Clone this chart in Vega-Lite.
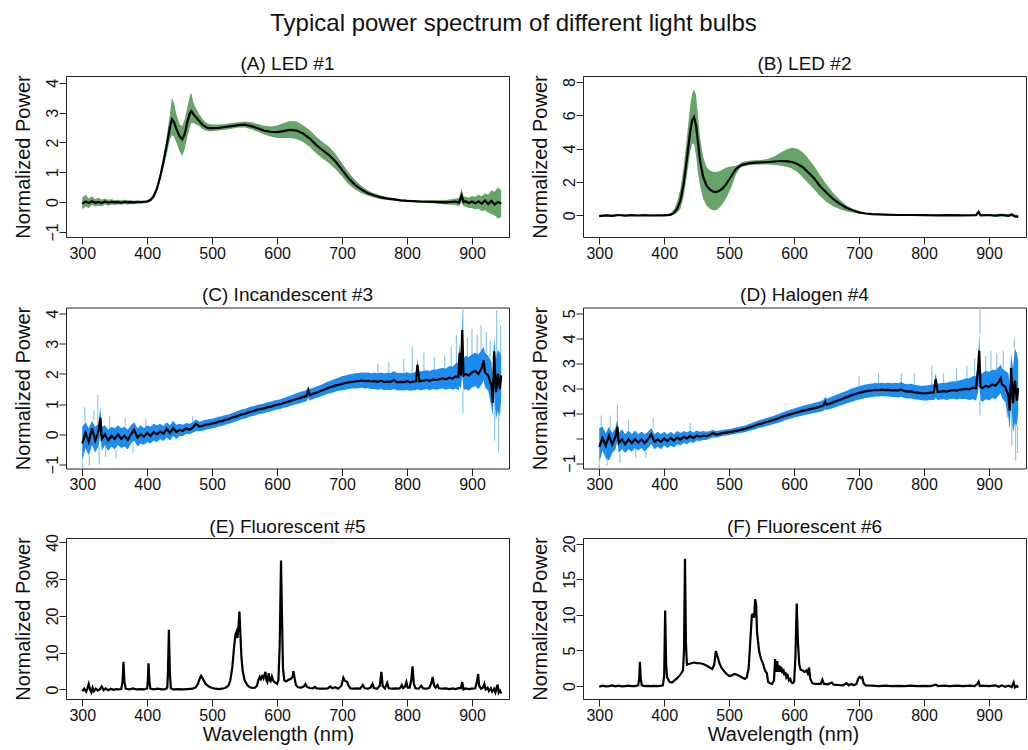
{
"$schema": "https://vega.github.io/schema/vega-lite/v6.json",
"padding": {"left": 12, "top": 12, "right": 0, "bottom": 0},
"title": {"text": "Typical power spectrum of different light bulbs", "fontSize": 24, "fontWeight": "normal", "anchor": "middle", "offset": 18, "dx": -6},
"config": {
  "font": "Liberation Sans",
  "view": {"stroke": "#222", "strokeWidth": 1},
  "axis": {"grid": false, "domain": false, "ticks": true, "tickSize": 7, "tickColor": "#222", "tickWidth": 1, "labelFontSize": 16, "labelColor": "#111", "labelPadding": 1, "titleFontSize": 20, "titleFontWeight": "normal", "titleColor": "#111", "labelFlush": false, "labelOverlap": false},
  "axisY": {"titleX": -37, "titleBaseline": "alphabetic"},
  "title": {"fontSize": 19, "fontWeight": "normal", "color": "#111", "offset": 1}
},
"datasets": {
"ledA": [
{"wl":300,"m":-0.05,"lo":-0.25,"hi":0.15},{"wl":305,"m":0.02,"lo":-0.15,"hi":0.25},{"wl":310,"m":-0.03,"lo":-0.2,"hi":0.12},{"wl":315,"m":0.03,"lo":-0.1,"hi":0.2},{"wl":320,"m":-0.02,"lo":-0.15,"hi":0.1},{"wl":325,"m":0.01,"lo":-0.12,"hi":0.15},{"wl":330,"m":-0.03,"lo":-0.14,"hi":0.08},{"wl":335,"m":0.02,"lo":-0.08,"hi":0.12},{"wl":340,"m":-0.02,"lo":-0.12,"hi":0.08},{"wl":345,"m":0.01,"lo":-0.08,"hi":0.1},{"wl":350,"m":-0.01,"lo":-0.1,"hi":0.07},{"wl":355,"m":0,"lo":-0.07,"hi":0.08},{"wl":360,"m":-0.02,"lo":-0.09,"hi":0.06},{"wl":365,"m":0.01,"lo":-0.06,"hi":0.08},{"wl":370,"m":-0.01,"lo":-0.08,"hi":0.06},{"wl":375,"m":0,"lo":-0.06,"hi":0.06},{"wl":380,"m":-0.01,"lo":-0.07,"hi":0.05},{"wl":385,"m":0,"lo":-0.05,"hi":0.06},{"wl":390,"m":0,"lo":-0.05,"hi":0.05},{"wl":395,"m":0.01,"lo":-0.04,"hi":0.05},{"wl":400,"m":0.02,"lo":-0.03,"hi":0.07},{"wl":405,"m":0.07,"lo":0.01,"hi":0.12},{"wl":410,"m":0.2,"lo":0.12,"hi":0.28},{"wl":415,"m":0.45,"lo":0.35,"hi":0.55},{"wl":420,"m":0.85,"lo":0.72,"hi":0.98},{"wl":425,"m":1.35,"lo":1.15,"hi":1.55},{"wl":430,"m":1.9,"lo":1.6,"hi":2.2},{"wl":435,"m":2.5,"lo":2.1,"hi":2.95},{"wl":438,"m":2.78,"lo":2.25,"hi":3.5},{"wl":441,"m":2.7,"lo":2.2,"hi":3.35},{"wl":445,"m":2.45,"lo":2,"hi":2.95},{"wl":450,"m":2.2,"lo":1.7,"hi":2.6},{"wl":454,"m":2.11,"lo":1.55,"hi":2.55},{"wl":458,"m":2.3,"lo":1.8,"hi":2.8},{"wl":462,"m":2.7,"lo":2.2,"hi":3.2},{"wl":466,"m":3,"lo":2.55,"hi":3.6},{"wl":468,"m":3.05,"lo":2.65,"hi":3.65},{"wl":471,"m":2.95,"lo":2.65,"hi":3.35},{"wl":475,"m":2.85,"lo":2.6,"hi":3.15},{"wl":480,"m":2.72,"lo":2.55,"hi":2.95},{"wl":485,"m":2.6,"lo":2.45,"hi":2.8},{"wl":490,"m":2.52,"lo":2.4,"hi":2.68},{"wl":495,"m":2.48,"lo":2.38,"hi":2.62},{"wl":500,"m":2.48,"lo":2.38,"hi":2.6},{"wl":510,"m":2.49,"lo":2.4,"hi":2.6},{"wl":520,"m":2.52,"lo":2.43,"hi":2.62},{"wl":530,"m":2.55,"lo":2.46,"hi":2.65},{"wl":540,"m":2.58,"lo":2.5,"hi":2.68},{"wl":550,"m":2.6,"lo":2.5,"hi":2.7},{"wl":560,"m":2.55,"lo":2.44,"hi":2.68},{"wl":570,"m":2.48,"lo":2.36,"hi":2.62},{"wl":580,"m":2.4,"lo":2.27,"hi":2.56},{"wl":590,"m":2.36,"lo":2.2,"hi":2.54},{"wl":600,"m":2.35,"lo":2.15,"hi":2.57},{"wl":610,"m":2.38,"lo":2.15,"hi":2.65},{"wl":620,"m":2.42,"lo":2.15,"hi":2.72},{"wl":630,"m":2.4,"lo":2.12,"hi":2.7},{"wl":640,"m":2.3,"lo":2.02,"hi":2.58},{"wl":650,"m":2.14,"lo":1.86,"hi":2.42},{"wl":660,"m":1.92,"lo":1.64,"hi":2.2},{"wl":670,"m":1.74,"lo":1.46,"hi":2.02},{"wl":680,"m":1.58,"lo":1.3,"hi":1.86},{"wl":690,"m":1.36,"lo":1.1,"hi":1.62},{"wl":700,"m":1.08,"lo":0.86,"hi":1.3},{"wl":710,"m":0.8,"lo":0.6,"hi":1},{"wl":720,"m":0.58,"lo":0.42,"hi":0.74},{"wl":730,"m":0.42,"lo":0.3,"hi":0.54},{"wl":740,"m":0.3,"lo":0.21,"hi":0.39},{"wl":750,"m":0.22,"lo":0.15,"hi":0.29},{"wl":760,"m":0.16,"lo":0.1,"hi":0.22},{"wl":770,"m":0.12,"lo":0.07,"hi":0.17},{"wl":780,"m":0.09,"lo":0.05,"hi":0.13},{"wl":790,"m":0.06,"lo":0.03,"hi":0.1},{"wl":800,"m":0.04,"lo":0.01,"hi":0.08},{"wl":820,"m":0.02,"lo":-0.02,"hi":0.06},{"wl":840,"m":0.01,"lo":-0.04,"hi":0.06},{"wl":860,"m":-0.01,"lo":-0.08,"hi":0.07},{"wl":875,"m":0.02,"lo":-0.1,"hi":0.12},{"wl":880,"m":-0.02,"lo":-0.15,"hi":0.15},{"wl":884,"m":0.22,"lo":0,"hi":0.45},{"wl":887,"m":0,"lo":-0.15,"hi":0.2},{"wl":890,"m":0.03,"lo":-0.15,"hi":0.18},{"wl":895,"m":-0.03,"lo":-0.2,"hi":0.15},{"wl":900,"m":0.02,"lo":-0.2,"hi":0.2},{"wl":905,"m":-0.04,"lo":-0.25,"hi":0.18},{"wl":910,"m":0.03,"lo":-0.22,"hi":0.25},{"wl":915,"m":-0.05,"lo":-0.3,"hi":0.2},{"wl":920,"m":0.05,"lo":-0.28,"hi":0.3},{"wl":925,"m":-0.06,"lo":-0.35,"hi":0.25},{"wl":930,"m":0.04,"lo":-0.4,"hi":0.4},{"wl":935,"m":-0.08,"lo":-0.45,"hi":0.35},{"wl":940,"m":0,"lo":-0.55,"hi":0.5},{"wl":945,"m":-0.05,"lo":-0.5,"hi":0.4}
],
"ledB": [
{"wl":300,"m":-0.05,"lo":-0.1,"hi":0.02},{"wl":310,"m":0,"lo":-0.05,"hi":0.05},{"wl":320,"m":-0.03,"lo":-0.08,"hi":0.03},{"wl":330,"m":0.02,"lo":-0.03,"hi":0.06},{"wl":340,"m":-0.02,"lo":-0.06,"hi":0.03},{"wl":350,"m":0.01,"lo":-0.03,"hi":0.05},{"wl":360,"m":-0.01,"lo":-0.05,"hi":0.03},{"wl":370,"m":0.01,"lo":-0.03,"hi":0.05},{"wl":380,"m":-0.01,"lo":-0.05,"hi":0.03},{"wl":390,"m":0,"lo":-0.04,"hi":0.04},{"wl":400,"m":0,"lo":-0.04,"hi":0.04},{"wl":405,"m":0.01,"lo":-0.03,"hi":0.05},{"wl":410,"m":0.04,"lo":-0.02,"hi":0.12},{"wl":415,"m":0.15,"lo":0.05,"hi":0.35},{"wl":420,"m":0.4,"lo":0.15,"hi":0.8},{"wl":425,"m":0.9,"lo":0.4,"hi":1.6},{"wl":430,"m":1.9,"lo":1.1,"hi":2.9},{"wl":435,"m":3.4,"lo":2.4,"hi":4.7},{"wl":440,"m":5,"lo":3.8,"hi":6.6},{"wl":443,"m":5.7,"lo":4.3,"hi":7.3},{"wl":446,"m":5.9,"lo":4.3,"hi":7.55},{"wl":449,"m":5.4,"lo":3.6,"hi":7.2},{"wl":452,"m":4.4,"lo":2.6,"hi":6},{"wl":455,"m":3.3,"lo":1.8,"hi":4.7},{"wl":460,"m":2.3,"lo":1,"hi":3.5},{"wl":465,"m":1.8,"lo":0.6,"hi":2.9},{"wl":470,"m":1.55,"lo":0.4,"hi":2.7},{"wl":475,"m":1.43,"lo":0.3,"hi":2.62},{"wl":480,"m":1.4,"lo":0.3,"hi":2.6},{"wl":485,"m":1.48,"lo":0.45,"hi":2.65},{"wl":490,"m":1.62,"lo":0.7,"hi":2.75},{"wl":495,"m":1.85,"lo":1,"hi":2.85},{"wl":500,"m":2.15,"lo":1.4,"hi":2.92},{"wl":505,"m":2.45,"lo":1.85,"hi":2.95},{"wl":510,"m":2.75,"lo":2.4,"hi":2.98},{"wl":515,"m":2.92,"lo":2.75,"hi":3.05},{"wl":520,"m":3.03,"lo":2.92,"hi":3.2},{"wl":530,"m":3.12,"lo":3,"hi":3.28},{"wl":540,"m":3.16,"lo":3.04,"hi":3.3},{"wl":550,"m":3.18,"lo":3.05,"hi":3.32},{"wl":560,"m":3.2,"lo":3.05,"hi":3.4},{"wl":570,"m":3.23,"lo":3.02,"hi":3.55},{"wl":580,"m":3.26,"lo":2.98,"hi":3.78},{"wl":590,"m":3.24,"lo":2.9,"hi":3.98},{"wl":597,"m":3.2,"lo":2.8,"hi":4.06},{"wl":605,"m":3.08,"lo":2.6,"hi":4},{"wl":613,"m":2.9,"lo":2.3,"hi":3.8},{"wl":620,"m":2.65,"lo":2,"hi":3.5},{"wl":630,"m":2.25,"lo":1.6,"hi":3},{"wl":640,"m":1.75,"lo":1.15,"hi":2.4},{"wl":650,"m":1.35,"lo":0.8,"hi":1.85},{"wl":660,"m":0.98,"lo":0.55,"hi":1.35},{"wl":670,"m":0.7,"lo":0.38,"hi":0.95},{"wl":680,"m":0.46,"lo":0.25,"hi":0.62},{"wl":690,"m":0.3,"lo":0.17,"hi":0.4},{"wl":700,"m":0.18,"lo":0.1,"hi":0.25},{"wl":710,"m":0.11,"lo":0.06,"hi":0.15},{"wl":720,"m":0.07,"lo":0.04,"hi":0.1},{"wl":740,"m":0.04,"lo":0.01,"hi":0.07},{"wl":760,"m":0.02,"lo":-0.01,"hi":0.05},{"wl":780,"m":0.02,"lo":-0.02,"hi":0.05},{"wl":800,"m":0.01,"lo":-0.02,"hi":0.04},{"wl":820,"m":0,"lo":-0.03,"hi":0.04},{"wl":840,"m":0.01,"lo":-0.03,"hi":0.05},{"wl":860,"m":0,"lo":-0.04,"hi":0.04},{"wl":880,"m":0.01,"lo":-0.04,"hi":0.05},{"wl":884,"m":0.2,"lo":0.05,"hi":0.35},{"wl":887,"m":0,"lo":-0.05,"hi":0.06},{"wl":900,"m":0.02,"lo":-0.04,"hi":0.07},{"wl":910,"m":-0.02,"lo":-0.08,"hi":0.05},{"wl":920,"m":0.03,"lo":-0.05,"hi":0.1},{"wl":930,"m":-0.03,"lo":-0.1,"hi":0.06},{"wl":935,"m":0.05,"lo":-0.05,"hi":0.12},{"wl":940,"m":-0.06,"lo":-0.15,"hi":0.05},{"wl":945,"m":-0.08,"lo":-0.15,"hi":0.02}
],
"incC": [
{"wl":300,"m":-0.3,"lo":-0.9,"hi":0.25},{"wl":305,"m":0.05,"lo":-0.45,"hi":0.4},{"wl":310,"m":-0.25,"lo":-0.7,"hi":0.2},{"wl":315,"m":0.2,"lo":-0.35,"hi":0.45},{"wl":320,"m":-0.2,"lo":-0.6,"hi":0.25},{"wl":325,"m":0.1,"lo":-0.4,"hi":0.35},{"wl":328,"m":0.55,"lo":0,"hi":0.9},{"wl":330,"m":-0.15,"lo":-0.55,"hi":0.25},{"wl":335,"m":0,"lo":-0.35,"hi":0.3},{"wl":340,"m":-0.2,"lo":-0.55,"hi":0.15},{"wl":345,"m":-0.05,"lo":-0.4,"hi":0.25},{"wl":350,"m":-0.15,"lo":-0.5,"hi":0.2},{"wl":355,"m":0,"lo":-0.35,"hi":0.3},{"wl":360,"m":-0.15,"lo":-0.45,"hi":0.2},{"wl":365,"m":-0.05,"lo":-0.4,"hi":0.25},{"wl":370,"m":-0.18,"lo":-0.5,"hi":0.15},{"wl":375,"m":0,"lo":-0.3,"hi":0.3},{"wl":380,"m":0.15,"lo":-0.2,"hi":0.4},{"wl":385,"m":-0.1,"lo":-0.4,"hi":0.2},{"wl":390,"m":0,"lo":-0.3,"hi":0.3},{"wl":395,"m":-0.08,"lo":-0.35,"hi":0.2},{"wl":400,"m":0.05,"lo":-0.25,"hi":0.3},{"wl":405,"m":-0.05,"lo":-0.3,"hi":0.25},{"wl":410,"m":0.08,"lo":-0.2,"hi":0.35},{"wl":415,"m":0,"lo":-0.25,"hi":0.3},{"wl":420,"m":0.1,"lo":-0.15,"hi":0.35},{"wl":425,"m":0.02,"lo":-0.22,"hi":0.28},{"wl":430,"m":0.18,"lo":-0.1,"hi":0.4},{"wl":435,"m":0.05,"lo":-0.2,"hi":0.3},{"wl":440,"m":0.2,"lo":-0.05,"hi":0.45},{"wl":445,"m":0.08,"lo":-0.15,"hi":0.32},{"wl":450,"m":0.15,"lo":-0.05,"hi":0.35},{"wl":455,"m":0.12,"lo":-0.05,"hi":0.32},{"wl":460,"m":0.2,"lo":0.02,"hi":0.38},{"wl":465,"m":0.15,"lo":0,"hi":0.35},{"wl":470,"m":0.22,"lo":0.05,"hi":0.4},{"wl":475,"m":0.35,"lo":0.1,"hi":0.5},{"wl":480,"m":0.26,"lo":0.1,"hi":0.42},{"wl":485,"m":0.28,"lo":0.12,"hi":0.45},{"wl":490,"m":0.32,"lo":0.15,"hi":0.48},{"wl":495,"m":0.33,"lo":0.18,"hi":0.5},{"wl":500,"m":0.36,"lo":0.2,"hi":0.52},{"wl":505,"m":0.38,"lo":0.22,"hi":0.55},{"wl":510,"m":0.42,"lo":0.26,"hi":0.58},{"wl":515,"m":0.44,"lo":0.28,"hi":0.6},{"wl":520,"m":0.48,"lo":0.32,"hi":0.64},{"wl":525,"m":0.5,"lo":0.35,"hi":0.66},{"wl":530,"m":0.55,"lo":0.38,"hi":0.7},{"wl":535,"m":0.58,"lo":0.42,"hi":0.74},{"wl":540,"m":0.62,"lo":0.46,"hi":0.78},{"wl":545,"m":0.66,"lo":0.5,"hi":0.82},{"wl":550,"m":0.68,"lo":0.52,"hi":0.84},{"wl":555,"m":0.72,"lo":0.56,"hi":0.88},{"wl":560,"m":0.75,"lo":0.6,"hi":0.92},{"wl":565,"m":0.78,"lo":0.62,"hi":0.94},{"wl":570,"m":0.82,"lo":0.66,"hi":0.98},{"wl":575,"m":0.84,"lo":0.68,"hi":1},{"wl":580,"m":0.86,"lo":0.7,"hi":1.02},{"wl":585,"m":0.9,"lo":0.74,"hi":1.06},{"wl":590,"m":0.92,"lo":0.76,"hi":1.08},{"wl":595,"m":0.95,"lo":0.8,"hi":1.12},{"wl":600,"m":0.98,"lo":0.82,"hi":1.14},{"wl":605,"m":1,"lo":0.84,"hi":1.16},{"wl":610,"m":1.04,"lo":0.88,"hi":1.2},{"wl":615,"m":1.07,"lo":0.9,"hi":1.24},{"wl":620,"m":1.1,"lo":0.94,"hi":1.28},{"wl":625,"m":1.14,"lo":0.97,"hi":1.32},{"wl":630,"m":1.17,"lo":1,"hi":1.36},{"wl":635,"m":1.2,"lo":1.03,"hi":1.4},{"wl":640,"m":1.24,"lo":1.06,"hi":1.43},{"wl":645,"m":1.27,"lo":1.1,"hi":1.47},{"wl":648,"m":1.45,"lo":1.2,"hi":1.6},{"wl":650,"m":1.3,"lo":1.12,"hi":1.5},{"wl":655,"m":1.34,"lo":1.16,"hi":1.54},{"wl":660,"m":1.38,"lo":1.2,"hi":1.58},{"wl":665,"m":1.42,"lo":1.24,"hi":1.62},{"wl":670,"m":1.46,"lo":1.28,"hi":1.66},{"wl":675,"m":1.5,"lo":1.32,"hi":1.72},{"wl":680,"m":1.55,"lo":1.35,"hi":1.76},{"wl":685,"m":1.58,"lo":1.38,"hi":1.8},{"wl":690,"m":1.62,"lo":1.42,"hi":1.84},{"wl":695,"m":1.64,"lo":1.44,"hi":1.88},{"wl":700,"m":1.67,"lo":1.46,"hi":1.92},{"wl":705,"m":1.7,"lo":1.48,"hi":1.95},{"wl":710,"m":1.72,"lo":1.5,"hi":1.98},{"wl":715,"m":1.74,"lo":1.52,"hi":2},{"wl":720,"m":1.75,"lo":1.52,"hi":2.02},{"wl":725,"m":1.76,"lo":1.53,"hi":2.03},{"wl":730,"m":1.78,"lo":1.54,"hi":2.05},{"wl":735,"m":1.76,"lo":1.52,"hi":2.04},{"wl":740,"m":1.77,"lo":1.53,"hi":2.05},{"wl":745,"m":1.75,"lo":1.5,"hi":2.02},{"wl":750,"m":1.76,"lo":1.5,"hi":2.04},{"wl":755,"m":1.74,"lo":1.48,"hi":2.02},{"wl":760,"m":1.78,"lo":1.5,"hi":2.05},{"wl":765,"m":1.73,"lo":1.46,"hi":2.02},{"wl":770,"m":1.75,"lo":1.48,"hi":2.04},{"wl":775,"m":1.74,"lo":1.46,"hi":2.03},{"wl":780,"m":1.8,"lo":1.5,"hi":2.1},{"wl":785,"m":1.72,"lo":1.45,"hi":2.02},{"wl":790,"m":1.74,"lo":1.46,"hi":2.04},{"wl":795,"m":1.73,"lo":1.45,"hi":2.02},{"wl":800,"m":1.76,"lo":1.47,"hi":2.06},{"wl":805,"m":1.72,"lo":1.44,"hi":2.02},{"wl":810,"m":1.75,"lo":1.46,"hi":2.05},{"wl":814,"m":1.76,"lo":1.46,"hi":2.08},{"wl":816,"m":2.3,"lo":1.5,"hi":2.5},{"wl":819,"m":1.76,"lo":1.46,"hi":2.08},{"wl":825,"m":1.78,"lo":1.48,"hi":2.1},{"wl":830,"m":1.8,"lo":1.5,"hi":2.12},{"wl":835,"m":1.77,"lo":1.46,"hi":2.1},{"wl":840,"m":1.82,"lo":1.5,"hi":2.15},{"wl":845,"m":1.8,"lo":1.48,"hi":2.14},{"wl":850,"m":1.83,"lo":1.5,"hi":2.18},{"wl":855,"m":1.85,"lo":1.52,"hi":2.2},{"wl":860,"m":1.82,"lo":1.48,"hi":2.18},{"wl":865,"m":1.88,"lo":1.52,"hi":2.26},{"wl":870,"m":1.85,"lo":1.48,"hi":2.25},{"wl":875,"m":1.92,"lo":1.52,"hi":2.35},{"wl":879,"m":1.9,"lo":1.45,"hi":2.4},{"wl":881,"m":2.7,"lo":1.6,"hi":3},{"wl":883,"m":1.95,"lo":1.5,"hi":2.5},{"wl":885,"m":3.45,"lo":2,"hi":4},{"wl":887,"m":1.95,"lo":1.45,"hi":2.5},{"wl":890,"m":2,"lo":1.5,"hi":2.6},{"wl":895,"m":1.95,"lo":1.45,"hi":2.55},{"wl":900,"m":2.05,"lo":1.55,"hi":2.65},{"wl":905,"m":2.1,"lo":1.6,"hi":2.7},{"wl":910,"m":2,"lo":1.5,"hi":2.65},{"wl":915,"m":2.2,"lo":1.65,"hi":2.8},{"wl":918,"m":2.45,"lo":1.8,"hi":2.9},{"wl":920,"m":2.05,"lo":1.55,"hi":2.7},{"wl":925,"m":1.95,"lo":1.45,"hi":2.6},{"wl":930,"m":1.6,"lo":0.9,"hi":2.4},{"wl":932,"m":1.05,"lo":0.6,"hi":1.8},{"wl":934,"m":2.75,"lo":1.5,"hi":3.2},{"wl":937,"m":1.4,"lo":0.5,"hi":2.5},{"wl":940,"m":2,"lo":0.8,"hi":2.8},{"wl":943,"m":1.5,"lo":0.6,"hi":2.7},{"wl":945,"m":1.95,"lo":1.2,"hi":2.6}
],
"incCs": [
{"wl":300,"y1":-0.9,"y2":-1.12},{"wl":304,"y1":0.4,"y2":0.9},{"wl":311,"y1":-0.7,"y2":-1.05},{"wl":318,"y1":0.45,"y2":0.8},{"wl":324,"y1":0.35,"y2":1.3},{"wl":326,"y1":-0.4,"y2":-1.0},{"wl":336,"y1":-0.35,"y2":-0.75},{"wl":342,"y1":0.15,"y2":0.6},{"wl":352,"y1":-0.5,"y2":-0.8},{"wl":366,"y1":0.25,"y2":0.55},{"wl":378,"y1":-0.3,"y2":-0.6},{"wl":398,"y1":0.2,"y2":0.5},{"wl":470,"y1":0.4,"y2":0.6},{"wl":755,"y1":2.02,"y2":2.35},{"wl":772,"y1":2.04,"y2":2.4},{"wl":795,"y1":2.02,"y2":2.5},{"wl":808,"y1":2.05,"y2":2.9},{"wl":826,"y1":2.1,"y2":2.7},{"wl":842,"y1":2.15,"y2":2.55},{"wl":858,"y1":2.18,"y2":2.6},{"wl":868,"y1":2.25,"y2":2.9},{"wl":876,"y1":2.35,"y2":3.3},{"wl":886,"y1":2.5,"y2":4.2},{"wl":886,"y1":1.45,"y2":0.7},{"wl":893,"y1":2.55,"y2":3.2},{"wl":900,"y1":2.6,"y2":3.5},{"wl":908,"y1":2.65,"y2":3.3},{"wl":914,"y1":2.75,"y2":3.6},{"wl":922,"y1":2.7,"y2":3.4},{"wl":928,"y1":2.55,"y2":3.1},{"wl":935,"y1":1.5,"y2":-0.2},{"wl":938,"y1":2.5,"y2":4.1},{"wl":941,"y1":0.8,"y2":-0.6},{"wl":944,"y1":2.65,"y2":3.6}
],
"halD": [
{"wl":300,"m":-0.35,"lo":-1,"hi":0.4},{"wl":305,"m":0,"lo":-0.5,"hi":0.45},{"wl":310,"m":-0.3,"lo":-0.8,"hi":0.2},{"wl":315,"m":0.1,"lo":-0.9,"hi":0.45},{"wl":320,"m":-0.25,"lo":-0.6,"hi":0.2},{"wl":325,"m":0.05,"lo":-0.45,"hi":0.4},{"wl":328,"m":0.45,"lo":-0.1,"hi":0.8},{"wl":330,"m":-0.2,"lo":-0.6,"hi":0.2},{"wl":335,"m":-0.05,"lo":-0.45,"hi":0.35},{"wl":340,"m":-0.25,"lo":-0.6,"hi":0.15},{"wl":345,"m":-0.05,"lo":-0.45,"hi":0.3},{"wl":350,"m":-0.2,"lo":-0.55,"hi":0.15},{"wl":355,"m":-0.05,"lo":-0.4,"hi":0.3},{"wl":360,"m":-0.18,"lo":-0.5,"hi":0.15},{"wl":365,"m":-0.05,"lo":-0.4,"hi":0.25},{"wl":370,"m":-0.2,"lo":-0.55,"hi":0.15},{"wl":375,"m":-0.05,"lo":-0.4,"hi":0.25},{"wl":380,"m":0.15,"lo":-0.25,"hi":0.4},{"wl":385,"m":-0.15,"lo":-0.45,"hi":0.15},{"wl":390,"m":-0.05,"lo":-0.35,"hi":0.25},{"wl":395,"m":-0.15,"lo":-0.45,"hi":0.15},{"wl":400,"m":-0.02,"lo":-0.3,"hi":0.25},{"wl":405,"m":-0.12,"lo":-0.4,"hi":0.15},{"wl":410,"m":0,"lo":-0.3,"hi":0.25},{"wl":415,"m":-0.1,"lo":-0.38,"hi":0.15},{"wl":420,"m":0.02,"lo":-0.25,"hi":0.28},{"wl":425,"m":-0.06,"lo":-0.3,"hi":0.2},{"wl":430,"m":0.05,"lo":-0.2,"hi":0.28},{"wl":435,"m":-0.02,"lo":-0.25,"hi":0.22},{"wl":440,"m":0.08,"lo":-0.15,"hi":0.3},{"wl":445,"m":0,"lo":-0.2,"hi":0.22},{"wl":450,"m":0.1,"lo":-0.1,"hi":0.3},{"wl":455,"m":0.05,"lo":-0.12,"hi":0.25},{"wl":460,"m":0.1,"lo":-0.08,"hi":0.28},{"wl":465,"m":0.08,"lo":-0.08,"hi":0.25},{"wl":470,"m":0.12,"lo":-0.02,"hi":0.28},{"wl":475,"m":0.2,"lo":0.02,"hi":0.32},{"wl":480,"m":0.14,"lo":0.02,"hi":0.28},{"wl":485,"m":0.17,"lo":0.05,"hi":0.3},{"wl":490,"m":0.2,"lo":0.08,"hi":0.32},{"wl":495,"m":0.22,"lo":0.1,"hi":0.34},{"wl":500,"m":0.24,"lo":0.12,"hi":0.36},{"wl":505,"m":0.26,"lo":0.14,"hi":0.38},{"wl":510,"m":0.29,"lo":0.17,"hi":0.42},{"wl":515,"m":0.31,"lo":0.19,"hi":0.44},{"wl":520,"m":0.34,"lo":0.21,"hi":0.47},{"wl":525,"m":0.37,"lo":0.24,"hi":0.5},{"wl":530,"m":0.42,"lo":0.28,"hi":0.56},{"wl":535,"m":0.45,"lo":0.31,"hi":0.6},{"wl":540,"m":0.5,"lo":0.35,"hi":0.65},{"wl":545,"m":0.55,"lo":0.4,"hi":0.7},{"wl":550,"m":0.58,"lo":0.42,"hi":0.74},{"wl":555,"m":0.62,"lo":0.46,"hi":0.78},{"wl":560,"m":0.66,"lo":0.5,"hi":0.82},{"wl":565,"m":0.7,"lo":0.53,"hi":0.86},{"wl":570,"m":0.74,"lo":0.57,"hi":0.9},{"wl":575,"m":0.78,"lo":0.6,"hi":0.95},{"wl":580,"m":0.83,"lo":0.65,"hi":1},{"wl":585,"m":0.88,"lo":0.7,"hi":1.05},{"wl":590,"m":0.92,"lo":0.74,"hi":1.1},{"wl":595,"m":0.96,"lo":0.78,"hi":1.14},{"wl":600,"m":1,"lo":0.82,"hi":1.18},{"wl":605,"m":1.03,"lo":0.85,"hi":1.22},{"wl":610,"m":1.07,"lo":0.88,"hi":1.26},{"wl":615,"m":1.1,"lo":0.91,"hi":1.3},{"wl":620,"m":1.13,"lo":0.94,"hi":1.33},{"wl":625,"m":1.16,"lo":0.97,"hi":1.36},{"wl":630,"m":1.19,"lo":1,"hi":1.4},{"wl":635,"m":1.22,"lo":1.02,"hi":1.43},{"wl":640,"m":1.26,"lo":1.05,"hi":1.47},{"wl":645,"m":1.3,"lo":1.08,"hi":1.52},{"wl":648,"m":1.45,"lo":1.15,"hi":1.65},{"wl":650,"m":1.34,"lo":1.12,"hi":1.57},{"wl":655,"m":1.38,"lo":1.16,"hi":1.62},{"wl":660,"m":1.43,"lo":1.2,"hi":1.68},{"wl":665,"m":1.48,"lo":1.24,"hi":1.73},{"wl":670,"m":1.53,"lo":1.29,"hi":1.78},{"wl":675,"m":1.58,"lo":1.33,"hi":1.83},{"wl":680,"m":1.63,"lo":1.38,"hi":1.88},{"wl":685,"m":1.68,"lo":1.42,"hi":1.94},{"wl":690,"m":1.73,"lo":1.46,"hi":2},{"wl":695,"m":1.77,"lo":1.5,"hi":2.04},{"wl":700,"m":1.81,"lo":1.54,"hi":2.08},{"wl":705,"m":1.84,"lo":1.57,"hi":2.12},{"wl":710,"m":1.87,"lo":1.6,"hi":2.15},{"wl":715,"m":1.89,"lo":1.62,"hi":2.17},{"wl":720,"m":1.91,"lo":1.64,"hi":2.19},{"wl":725,"m":1.93,"lo":1.66,"hi":2.21},{"wl":730,"m":1.92,"lo":1.66,"hi":2.2},{"wl":735,"m":1.94,"lo":1.68,"hi":2.22},{"wl":740,"m":1.92,"lo":1.66,"hi":2.2},{"wl":745,"m":1.93,"lo":1.66,"hi":2.22},{"wl":750,"m":1.91,"lo":1.64,"hi":2.2},{"wl":755,"m":1.92,"lo":1.64,"hi":2.22},{"wl":760,"m":1.9,"lo":1.62,"hi":2.2},{"wl":765,"m":1.95,"lo":1.65,"hi":2.25},{"wl":770,"m":1.88,"lo":1.6,"hi":2.18},{"wl":775,"m":1.86,"lo":1.58,"hi":2.16},{"wl":780,"m":1.87,"lo":1.58,"hi":2.18},{"wl":785,"m":1.83,"lo":1.55,"hi":2.14},{"wl":790,"m":1.82,"lo":1.54,"hi":2.12},{"wl":795,"m":1.8,"lo":1.52,"hi":2.1},{"wl":800,"m":1.79,"lo":1.5,"hi":2.1},{"wl":805,"m":1.8,"lo":1.5,"hi":2.12},{"wl":810,"m":1.82,"lo":1.52,"hi":2.14},{"wl":815,"m":1.83,"lo":1.52,"hi":2.16},{"wl":818,"m":2.35,"lo":1.6,"hi":2.6},{"wl":821,"m":1.85,"lo":1.52,"hi":2.18},{"wl":825,"m":1.86,"lo":1.54,"hi":2.2},{"wl":830,"m":1.88,"lo":1.55,"hi":2.22},{"wl":835,"m":1.86,"lo":1.52,"hi":2.22},{"wl":840,"m":1.9,"lo":1.56,"hi":2.26},{"wl":845,"m":1.92,"lo":1.57,"hi":2.28},{"wl":850,"m":1.9,"lo":1.54,"hi":2.28},{"wl":855,"m":1.94,"lo":1.57,"hi":2.32},{"wl":860,"m":1.95,"lo":1.56,"hi":2.35},{"wl":865,"m":1.97,"lo":1.56,"hi":2.4},{"wl":870,"m":1.95,"lo":1.52,"hi":2.4},{"wl":875,"m":2.02,"lo":1.55,"hi":2.48},{"wl":880,"m":2,"lo":1.5,"hi":2.5},{"wl":883,"m":2.7,"lo":1.8,"hi":3},{"wl":885,"m":3.5,"lo":2.2,"hi":4.2},{"wl":887,"m":2.05,"lo":1.5,"hi":2.6},{"wl":890,"m":2,"lo":1.45,"hi":2.6},{"wl":895,"m":2.1,"lo":1.55,"hi":2.7},{"wl":900,"m":2.05,"lo":1.5,"hi":2.65},{"wl":905,"m":2.15,"lo":1.6,"hi":2.75},{"wl":910,"m":2.1,"lo":1.55,"hi":2.72},{"wl":915,"m":2.25,"lo":1.7,"hi":2.85},{"wl":918,"m":2.4,"lo":1.8,"hi":2.95},{"wl":920,"m":2.15,"lo":1.6,"hi":2.8},{"wl":925,"m":2.05,"lo":1.45,"hi":2.7},{"wl":930,"m":1.7,"lo":0.8,"hi":2.6},{"wl":932,"m":1.1,"lo":0.3,"hi":2},{"wl":934,"m":2.8,"lo":1.6,"hi":3.4},{"wl":937,"m":1.4,"lo":0.2,"hi":2.8},{"wl":940,"m":2.3,"lo":0.6,"hi":3.6},{"wl":943,"m":1.5,"lo":0.5,"hi":3.4},{"wl":945,"m":2,"lo":1,"hi":3.1}
],
"halDs": [
{"wl":300,"y1":-1.0,"y2":-1.22},{"wl":303,"y1":0.45,"y2":0.9},{"wl":312,"y1":-0.8,"y2":-1.1},{"wl":317,"y1":0.4,"y2":0.9},{"wl":328,"y1":0.8,"y2":1.35},{"wl":332,"y1":-0.6,"y2":-1.0},{"wl":345,"y1":0.3,"y2":0.7},{"wl":356,"y1":-0.4,"y2":-0.8},{"wl":372,"y1":-0.55,"y2":-0.8},{"wl":383,"y1":0.4,"y2":0.8},{"wl":440,"y1":0.3,"y2":0.6},{"wl":700,"y1":2.08,"y2":2.5},{"wl":730,"y1":2.2,"y2":2.6},{"wl":765,"y1":2.25,"y2":2.6},{"wl":785,"y1":2.14,"y2":2.6},{"wl":812,"y1":2.14,"y2":2.9},{"wl":830,"y1":2.22,"y2":2.6},{"wl":850,"y1":2.28,"y2":2.8},{"wl":866,"y1":2.4,"y2":2.9},{"wl":878,"y1":2.5,"y2":3.2},{"wl":886,"y1":4.2,"y2":5.2},{"wl":886,"y1":1.5,"y2":0.9},{"wl":895,"y1":2.7,"y2":3.3},{"wl":903,"y1":2.75,"y2":3.5},{"wl":912,"y1":2.75,"y2":3.4},{"wl":922,"y1":2.8,"y2":3.5},{"wl":928,"y1":1.45,"y2":0.8},{"wl":935,"y1":1.6,"y2":-0.3},{"wl":939,"y1":3.6,"y2":4.0},{"wl":941,"y1":0.6,"y2":-0.9},{"wl":944,"y1":0.5,"y2":-0.6}
],
"fluE": [
{"wl":300,"m":-0.5},{"wl":303,"m":0.2},{"wl":306,"m":-0.6},{"wl":308,"m":0.3},{"wl":310,"m":1.5},{"wl":312,"m":0},{"wl":314,"m":-0.8},{"wl":316,"m":0.5},{"wl":318,"m":-0.5},{"wl":321,"m":0.2},{"wl":324,"m":-0.3},{"wl":327,"m":0},{"wl":330,"m":0.8},{"wl":333,"m":-0.2},{"wl":336,"m":0.3},{"wl":340,"m":-0.2},{"wl":344,"m":0.2},{"wl":348,"m":-0.1},{"wl":352,"m":0.1},{"wl":356,"m":0},{"wl":360,"m":0.1},{"wl":362,"m":2},{"wl":363.5,"m":7.5},{"wl":365,"m":2},{"wl":367,"m":0.2},{"wl":372,"m":0},{"wl":378,"m":0.3},{"wl":384,"m":0},{"wl":390,"m":0.1},{"wl":396,"m":0},{"wl":400,"m":0.3},{"wl":401,"m":2.5},{"wl":402,"m":7.1},{"wl":403.5,"m":2},{"wl":405,"m":0.2},{"wl":410,"m":0},{"wl":416,"m":0.2},{"wl":422,"m":0},{"wl":428,"m":0.1},{"wl":431,"m":0.5},{"wl":432,"m":5},{"wl":433.4,"m":16.2},{"wl":435,"m":4},{"wl":436.5,"m":0.3},{"wl":440,"m":0},{"wl":448,"m":0.1},{"wl":455,"m":0},{"wl":462,"m":0.1},{"wl":470,"m":0.2},{"wl":475,"m":0.6},{"wl":478,"m":1.5},{"wl":481,"m":3},{"wl":483,"m":3.7},{"wl":486,"m":2.8},{"wl":490,"m":1.5},{"wl":495,"m":0.8},{"wl":500,"m":0.4},{"wl":505,"m":0.2},{"wl":510,"m":0.1},{"wl":515,"m":0.2},{"wl":520,"m":0.4},{"wl":525,"m":1},{"wl":528,"m":2.5},{"wl":531,"m":6},{"wl":534,"m":12},{"wl":536,"m":15},{"wl":537.5,"m":15.7},{"wl":539,"m":14},{"wl":540.5,"m":17},{"wl":542,"m":21.2},{"wl":543.5,"m":15},{"wl":545,"m":9},{"wl":547,"m":5},{"wl":550,"m":2.5},{"wl":554,"m":1.2},{"wl":558,"m":0.6},{"wl":562,"m":0.4},{"wl":566,"m":0.5},{"wl":569,"m":1},{"wl":571,"m":2.5},{"wl":573.4,"m":3.4},{"wl":575,"m":2.8},{"wl":577,"m":3.6},{"wl":579,"m":3},{"wl":582,"m":4.8},{"wl":583.5,"m":2.5},{"wl":585,"m":2},{"wl":587,"m":4.4},{"wl":588.5,"m":2.5},{"wl":590,"m":2.2},{"wl":592,"m":3.5},{"wl":594,"m":2.4},{"wl":596,"m":2},{"wl":598,"m":1.8},{"wl":600,"m":1.5},{"wl":602,"m":2.5},{"wl":604,"m":12},{"wl":606,"m":35.1},{"wl":607.5,"m":20},{"wl":609,"m":6},{"wl":611,"m":2.5},{"wl":614,"m":2.2},{"wl":617,"m":2.6},{"wl":620,"m":2.8},{"wl":622,"m":3},{"wl":624,"m":3.5},{"wl":625,"m":5},{"wl":627,"m":3},{"wl":629,"m":1.2},{"wl":632,"m":0.6},{"wl":637,"m":0.5},{"wl":641,"m":0.8},{"wl":643.6,"m":1.5},{"wl":646,"m":0.7},{"wl":650,"m":0.4},{"wl":655,"m":0.3},{"wl":658,"m":0.7},{"wl":661,"m":0.3},{"wl":667,"m":0.2},{"wl":672,"m":0.2},{"wl":678,"m":0.3},{"wl":682,"m":0.8},{"wl":685,"m":0.3},{"wl":690,"m":0.6},{"wl":694,"m":0.2},{"wl":699,"m":1},{"wl":702,"m":3.2},{"wl":704,"m":2.5},{"wl":706,"m":2.2},{"wl":708,"m":2},{"wl":710,"m":1},{"wl":713,"m":0.3},{"wl":718,"m":0.2},{"wl":723,"m":0.3},{"wl":728,"m":0.2},{"wl":732,"m":1.2},{"wl":735,"m":0.3},{"wl":740,"m":0.2},{"wl":744,"m":0.5},{"wl":747,"m":1.5},{"wl":749,"m":0.4},{"wl":754,"m":0.2},{"wl":758,"m":1},{"wl":760.5,"m":4.8},{"wl":762.5,"m":1},{"wl":766,"m":0.3},{"wl":769.5,"m":1.8},{"wl":772,"m":0.3},{"wl":777,"m":0.2},{"wl":782,"m":0.3},{"wl":787,"m":0.2},{"wl":790,"m":0.5},{"wl":792,"m":1.2},{"wl":794,"m":0.4},{"wl":797,"m":0.8},{"wl":799,"m":2},{"wl":801,"m":0.5},{"wl":804,"m":0.5},{"wl":806.5,"m":2.5},{"wl":808.5,"m":6.3},{"wl":810.5,"m":1.5},{"wl":813,"m":0.3},{"wl":818,"m":0.2},{"wl":822,"m":1},{"wl":825,"m":0.3},{"wl":830,"m":0.2},{"wl":834,"m":0.4},{"wl":837,"m":1.5},{"wl":839.5,"m":3.4},{"wl":841.5,"m":1.2},{"wl":844,"m":0.5},{"wl":847,"m":1.2},{"wl":849,"m":0.3},{"wl":855,"m":0.2},{"wl":860,"m":0.3},{"wl":865,"m":0.1},{"wl":870,"m":0.3},{"wl":875,"m":0.1},{"wl":880,"m":0.4},{"wl":883,"m":0.3},{"wl":885,"m":2},{"wl":887,"m":0},{"wl":890,"m":0.3},{"wl":895,"m":0.1},{"wl":900,"m":0.2},{"wl":905,"m":0.3},{"wl":907.5,"m":2},{"wl":909.5,"m":4.2},{"wl":911,"m":1},{"wl":914,"m":0.2},{"wl":917,"m":0.5},{"wl":919,"m":1.5},{"wl":921,"m":0},{"wl":924,"m":0.5},{"wl":926,"m":-0.4},{"wl":929,"m":0.3},{"wl":931,"m":-0.6},{"wl":934,"m":0.2},{"wl":936,"m":-0.8},{"wl":938,"m":0.5},{"wl":939.5,"m":1.3},{"wl":941,"m":-0.9},{"wl":943,"m":-0.3},{"wl":945,"m":-1.1}
],
"fluF": [
{"wl":300,"m":-0.1},{"wl":305,"m":0.05},{"wl":310,"m":-0.05},{"wl":315,"m":0},{"wl":320,"m":0.1},{"wl":325,"m":-0.05},{"wl":330,"m":0.05},{"wl":335,"m":-0.05},{"wl":340,"m":0},{"wl":345,"m":0.05},{"wl":350,"m":-0.02},{"wl":355,"m":0},{"wl":360,"m":0.1},{"wl":361.5,"m":1},{"wl":362.6,"m":3.4},{"wl":364,"m":1},{"wl":365.5,"m":0.1},{"wl":370,"m":0},{"wl":375,"m":0.02},{"wl":380,"m":0},{"wl":385,"m":0.02},{"wl":390,"m":0},{"wl":395,"m":0.05},{"wl":398,"m":0.1},{"wl":400,"m":1.5},{"wl":401.5,"m":10.6},{"wl":403,"m":3},{"wl":404.5,"m":1.2},{"wl":406,"m":1},{"wl":408,"m":0.6},{"wl":412,"m":0.5},{"wl":416,"m":0.8},{"wl":420,"m":1.1},{"wl":424,"m":1.5},{"wl":427,"m":1.9},{"wl":429,"m":2.2},{"wl":430.5,"m":5},{"wl":432,"m":17.9},{"wl":433.5,"m":6},{"wl":435,"m":3},{"wl":438,"m":3.1},{"wl":442,"m":3.2},{"wl":446,"m":3.3},{"wl":450,"m":3.2},{"wl":455,"m":3.2},{"wl":460,"m":3.1},{"wl":465,"m":2.9},{"wl":470,"m":2.6},{"wl":474,"m":2.4},{"wl":477,"m":3},{"wl":479.5,"m":4.9},{"wl":482,"m":4.2},{"wl":485,"m":3.2},{"wl":488,"m":2.6},{"wl":492,"m":2.1},{"wl":496,"m":1.7},{"wl":500,"m":1.4},{"wl":504,"m":1.5},{"wl":508,"m":1.7},{"wl":512,"m":1.6},{"wl":516,"m":1.4},{"wl":520,"m":1.2},{"wl":524,"m":1},{"wl":527,"m":1.2},{"wl":530,"m":2.5},{"wl":533,"m":7},{"wl":535,"m":10},{"wl":537,"m":10.1},{"wl":538.5,"m":9.6},{"wl":540,"m":12.2},{"wl":541.5,"m":11.5},{"wl":543,"m":7.5},{"wl":546,"m":5},{"wl":549,"m":3.8},{"wl":552,"m":3.2},{"wl":555,"m":2.2},{"wl":558,"m":1.8},{"wl":560,"m":0.6},{"wl":563,"m":0.4},{"wl":566,"m":0.3},{"wl":569,"m":0.8},{"wl":570.8,"m":3.8},{"wl":572.5,"m":2},{"wl":574,"m":3.5},{"wl":575.5,"m":2},{"wl":577,"m":2.9},{"wl":578.5,"m":2},{"wl":580,"m":2.7},{"wl":582,"m":1.8},{"wl":583.5,"m":2.4},{"wl":585,"m":1.5},{"wl":586.5,"m":2},{"wl":588,"m":1.2},{"wl":590,"m":1.5},{"wl":592,"m":0.8},{"wl":594,"m":1},{"wl":596,"m":0.5},{"wl":598,"m":0.4},{"wl":600,"m":0.6},{"wl":602,"m":4},{"wl":604,"m":11.6},{"wl":606,"m":6},{"wl":608,"m":3},{"wl":610,"m":2.3},{"wl":613,"m":2.2},{"wl":616,"m":2},{"wl":619,"m":2.2},{"wl":621,"m":1.8},{"wl":623,"m":2.6},{"wl":625,"m":1},{"wl":628,"m":0.4},{"wl":632,"m":0.3},{"wl":638,"m":0.3},{"wl":641,"m":0.3},{"wl":643.5,"m":0.9},{"wl":646,"m":0.3},{"wl":652,"m":0.25},{"wl":658,"m":0.5},{"wl":661,"m":0.2},{"wl":668,"m":0.15},{"wl":675,"m":0.1},{"wl":681,"m":0.4},{"wl":684,"m":0.1},{"wl":688,"m":0.3},{"wl":692,"m":0.1},{"wl":696,"m":0.3},{"wl":699,"m":1.1},{"wl":701,"m":1.3},{"wl":703,"m":1.1},{"wl":705,"m":1.2},{"wl":707,"m":0.4},{"wl":710,"m":0.1},{"wl":720,"m":0.05},{"wl":730,"m":0},{"wl":740,"m":0.05},{"wl":750,"m":0},{"wl":760,"m":0.03},{"wl":770,"m":0},{"wl":780,"m":0.05},{"wl":790,"m":0},{"wl":800,"m":0.02},{"wl":810,"m":0},{"wl":818,"m":0.2},{"wl":822,"m":0},{"wl":830,"m":0.05},{"wl":840,"m":0},{"wl":850,"m":0.05},{"wl":860,"m":0},{"wl":870,"m":0.05},{"wl":878,"m":0},{"wl":882,"m":0.3},{"wl":884,"m":0.6},{"wl":886,"m":0},{"wl":890,"m":0.05},{"wl":900,"m":0},{"wl":910,"m":0.1},{"wl":915,"m":-0.1},{"wl":920,"m":0.1},{"wl":925,"m":-0.1},{"wl":930,"m":0.05},{"wl":935,"m":-0.15},{"wl":938,"m":0.5},{"wl":940,"m":-0.2},{"wl":943,"m":0},{"wl":945,"m":-0.2}
]
},
"vconcat": [
{"hconcat": [
 {"width": 443, "height": 161, "title": "(A) LED #1", "data": {"name": "ledA"},
  "encoding": {"x": {"field": "wl", "type": "quantitative", "scale": {"domain": [275, 957], "nice": false, "zero": false}, "axis": {"values": [300,400,500,600,700,800,900], "title": null}}},
  "layer": [
   {"mark": {"type": "area", "color": "#66a468", "clip": true},
    "encoding": {"y": {"field": "lo", "type": "quantitative", "scale": {"domain": [-1.17, 4.23], "nice": false, "zero": false}, "axis": {"values": [-1,0,1,2,3,4], "title": "Normalized Power", "labelAngle": -90, "labelBaseline": "middle", "labelAlign": "center", "labelOverlap": false, "labelPadding": 7}}, "y2": {"field": "hi"}}},
   {"mark": {"type": "line", "color": "#000", "strokeWidth": 2.2, "clip": true},
    "encoding": {"y": {"field": "m", "type": "quantitative", "axis": {"values": [-1,0,1,2,3,4], "title": "Normalized Power", "labelAngle": -90, "labelBaseline": "middle", "labelAlign": "center", "labelOverlap": false, "labelPadding": 7}}}}
  ]},
 {"width": 443, "height": 161, "title": "(B) LED #2", "data": {"name": "ledB"},
  "encoding": {"x": {"field": "wl", "type": "quantitative", "scale": {"domain": [275, 957], "nice": false, "zero": false}, "axis": {"values": [300,400,500,600,700,800,900], "title": null}}},
  "layer": [
   {"mark": {"type": "area", "color": "#66a468", "clip": true},
    "encoding": {"y": {"field": "lo", "type": "quantitative", "scale": {"domain": [-1.3, 8.36], "nice": false, "zero": false}, "axis": {"values": [0,2,4,6,8], "title": "Normalized Power", "labelAngle": -90, "labelBaseline": "middle", "labelAlign": "center", "labelOverlap": false, "labelPadding": 7}}, "y2": {"field": "hi"}}},
   {"mark": {"type": "line", "color": "#000", "strokeWidth": 2.2, "clip": true},
    "encoding": {"y": {"field": "m", "type": "quantitative", "axis": {"values": [0,2,4,6,8], "title": "Normalized Power", "labelAngle": -90, "labelBaseline": "middle", "labelAlign": "center", "labelOverlap": false, "labelPadding": 7}}}}
  ]}
], "spacing": 74, "bounds": "flush"},
{"hconcat": [
 {"width": 443, "height": 161, "title": "(C) Incandescent #3",
  "encoding": {"x": {"field": "wl", "type": "quantitative", "scale": {"domain": [275, 957], "nice": false, "zero": false}, "axis": {"values": [300,400,500,600,700,800,900], "title": null}}},
  "layer": [
   {"data": {"name": "incCs"}, "mark": {"type": "rule", "color": "#8cc6f3", "strokeWidth": 1.2, "clip": true},
    "encoding": {"y": {"field": "y1", "type": "quantitative", "scale": {"domain": [-1.13, 4.2], "nice": false, "zero": false}, "axis": {"values": [-1,0,1,2,3,4], "title": "Normalized Power", "labelAngle": -90, "labelBaseline": "middle", "labelAlign": "center", "labelOverlap": false, "labelPadding": 7}}, "y2": {"field": "y2"}}},
   {"data": {"name": "incC"}, "mark": {"type": "area", "color": "#1c8cf0", "clip": true},
    "encoding": {"y": {"field": "lo", "type": "quantitative", "axis": {"values": [-1,0,1,2,3,4], "title": "Normalized Power", "labelAngle": -90, "labelBaseline": "middle", "labelAlign": "center", "labelOverlap": false, "labelPadding": 7}}, "y2": {"field": "hi"}}},
   {"data": {"name": "incC"}, "mark": {"type": "line", "color": "#000", "strokeWidth": 2.2, "clip": true},
    "encoding": {"y": {"field": "m", "type": "quantitative", "axis": {"values": [-1,0,1,2,3,4], "title": "Normalized Power", "labelAngle": -90, "labelBaseline": "middle", "labelAlign": "center", "labelOverlap": false, "labelPadding": 7}}}}
  ]},
 {"width": 443, "height": 161, "title": "(D) Halogen #4",
  "encoding": {"x": {"field": "wl", "type": "quantitative", "scale": {"domain": [275, 957], "nice": false, "zero": false}, "axis": {"values": [300,400,500,600,700,800,900], "title": null}}},
  "layer": [
   {"data": {"name": "halDs"}, "mark": {"type": "rule", "color": "#8cc6f3", "strokeWidth": 1.2, "clip": true},
    "encoding": {"y": {"field": "y1", "type": "quantitative", "scale": {"domain": [-1.22, 5.23], "nice": false, "zero": false}, "axis": {"values": [-1,0,1,2,3,4,5], "title": "Normalized Power", "labelExpr": "datum.value == 0 ? '' : datum.label", "labelAngle": -90, "labelBaseline": "middle", "labelAlign": "center", "labelOverlap": false, "labelPadding": 7}}, "y2": {"field": "y2"}}},
   {"data": {"name": "halD"}, "mark": {"type": "area", "color": "#1c8cf0", "clip": true},
    "encoding": {"y": {"field": "lo", "type": "quantitative", "axis": {"values": [-1,0,1,2,3,4,5], "title": "Normalized Power", "labelExpr": "datum.value == 0 ? '' : datum.label", "labelAngle": -90, "labelBaseline": "middle", "labelAlign": "center", "labelOverlap": false, "labelPadding": 7}}, "y2": {"field": "hi"}}},
   {"data": {"name": "halD"}, "mark": {"type": "line", "color": "#000", "strokeWidth": 2.2, "clip": true},
    "encoding": {"y": {"field": "m", "type": "quantitative", "axis": {"values": [-1,0,1,2,3,4,5], "title": "Normalized Power", "labelExpr": "datum.value == 0 ? '' : datum.label", "labelAngle": -90, "labelBaseline": "middle", "labelAlign": "center", "labelOverlap": false, "labelPadding": 7}}}}
  ]}
], "spacing": 74, "bounds": "flush"},
{"hconcat": [
 {"width": 443, "height": 161, "title": {"text": "(E) Fluorescent #5", "offset": -3.5}, "data": {"name": "fluE"},
  "mark": {"type": "line", "color": "#000", "strokeWidth": 2.2, "clip": true},
  "encoding": {"x": {"field": "wl", "type": "quantitative", "scale": {"domain": [275, 957], "nice": false, "zero": false}, "axis": {"values": [300,400,500,600,700,800,900], "title": "Wavelength (nm)", "titlePadding": 1, "titleX": 212}},
   "y": {"field": "m", "type": "quantitative", "scale": {"domain": [-2.6, 41.2], "nice": false, "zero": false}, "axis": {"values": [0,10,20,30,40], "title": "Normalized Power", "labelAngle": -90, "labelBaseline": "middle", "labelAlign": "center", "labelOverlap": false, "labelPadding": 7}}}},
 {"width": 443, "height": 161, "title": {"text": "(F) Fluorescent #6", "offset": -2.2}, "data": {"name": "fluF"},
  "mark": {"type": "line", "color": "#000", "strokeWidth": 2.2, "clip": true},
  "encoding": {"x": {"field": "wl", "type": "quantitative", "scale": {"domain": [275, 957], "nice": false, "zero": false}, "axis": {"values": [300,400,500,600,700,800,900], "title": "Wavelength (nm)", "titlePadding": 1, "titleX": 200}},
   "y": {"field": "m", "type": "quantitative", "scale": {"domain": [-1.82, 20.8], "nice": false, "zero": false}, "axis": {"values": [0,5,10,15,20], "title": "Normalized Power", "labelAngle": -90, "labelBaseline": "middle", "labelAlign": "center", "labelOverlap": false, "labelPadding": 7}}}}
], "spacing": 74, "bounds": "flush"}
],
"spacing": 23.5
}
